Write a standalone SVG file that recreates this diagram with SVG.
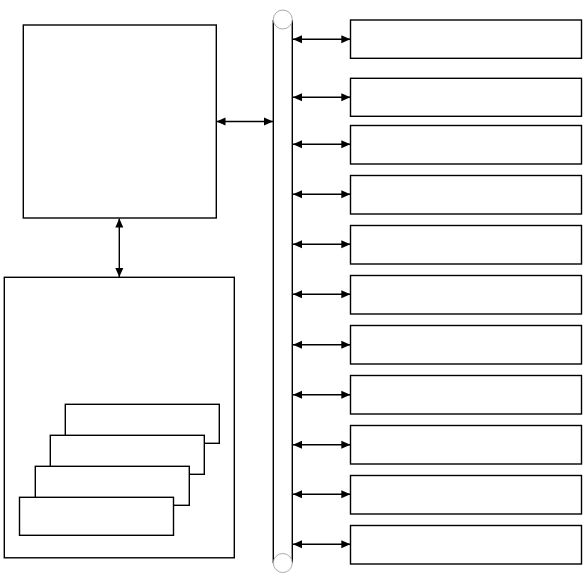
<svg xmlns="http://www.w3.org/2000/svg" width="586" height="585" viewBox="0 0 586 585">
<style>
.box{fill:#fff;stroke:#000;stroke-width:1.4}
.bus{fill:none;stroke:#000;stroke-width:1.4}
.cap{fill:#fff;stroke:#aaa;stroke-width:1}
.con{fill:none;stroke:#000;stroke-width:1.4;marker-start:url(#ah);marker-end:url(#ah)}
</style>
<defs>
<marker id="ah" markerUnits="userSpaceOnUse" markerWidth="10" markerHeight="10" refX="9" refY="4.5" orient="auto-start-reverse">
<path d="M0,0.5 L9,4.5 L0,8.5 z" fill="#000"/>
</marker>
</defs>
<rect width="586" height="585" fill="#fff"/>
<g id="bus">
<line class="bus" x1="273.3" y1="20" x2="273.3" y2="563"/>
<line class="bus" x1="292.3" y1="20" x2="292.3" y2="563"/>
<circle class="cap" cx="282.8" cy="19.5" r="9.5"/>
<circle class="cap" cx="282.8" cy="563" r="9.5"/>
</g>
<g id="cpu"><rect class="box" x="23.3" y="25" width="193" height="193"/></g>
<g id="mem"><rect class="box" x="4.3" y="277.3" width="230" height="280.5"/></g>
<g id="stack">
<rect class="box" x="65.3" y="404.3" width="154" height="39"/>
<rect class="box" x="50.3" y="435.3" width="154" height="39"/>
<rect class="box" x="35.3" y="466.3" width="154" height="39"/>
<rect class="box" x="19.5" y="497.3" width="154" height="38"/>
</g>
<g id="dev1"><rect class="box" x="350.5" y="20" width="231" height="38.3"/></g>
<g id="dev2"><rect class="box" x="350.5" y="78.3" width="231" height="38"/></g>
<g id="dev3"><rect class="box" x="350.5" y="125.5" width="231" height="38.5"/></g>
<g id="dev4"><rect class="box" x="350.5" y="175.5" width="231" height="38.5"/></g>
<g id="dev5"><rect class="box" x="350.5" y="225.5" width="231" height="38.5"/></g>
<g id="dev6"><rect class="box" x="350.5" y="275.5" width="231" height="38.5"/></g>
<g id="dev7"><rect class="box" x="350.5" y="325.5" width="231" height="38.5"/></g>
<g id="dev8"><rect class="box" x="350.5" y="375.5" width="231" height="38.5"/></g>
<g id="dev9"><rect class="box" x="350.5" y="425.5" width="231" height="38.5"/></g>
<g id="dev10"><rect class="box" x="350.5" y="475.5" width="231" height="38.5"/></g>
<g id="dev11"><rect class="box" x="350.5" y="525.5" width="231" height="38.5"/></g>
<g id="connectors">
<line class="con" x1="216.5" y1="121.5" x2="273" y2="121.5"/>
<line class="con" x1="119.3" y1="218.5" x2="119.3" y2="277"/>
<line class="con" x1="293" y1="39.3" x2="350.3" y2="39.3"/>
<line class="con" x1="293" y1="97.3" x2="350.3" y2="97.3"/>
<line class="con" x1="293" y1="144.3" x2="350.3" y2="144.3"/>
<line class="con" x1="293" y1="194.3" x2="350.3" y2="194.3"/>
<line class="con" x1="293" y1="244.3" x2="350.3" y2="244.3"/>
<line class="con" x1="293" y1="294.3" x2="350.3" y2="294.3"/>
<line class="con" x1="293" y1="344.8" x2="350.3" y2="344.8"/>
<line class="con" x1="293" y1="394.8" x2="350.3" y2="394.8"/>
<line class="con" x1="293" y1="444.8" x2="350.3" y2="444.8"/>
<line class="con" x1="293" y1="494.3" x2="350.3" y2="494.3"/>
<line class="con" x1="293" y1="544.3" x2="350.3" y2="544.3"/>
</g>
</svg>
